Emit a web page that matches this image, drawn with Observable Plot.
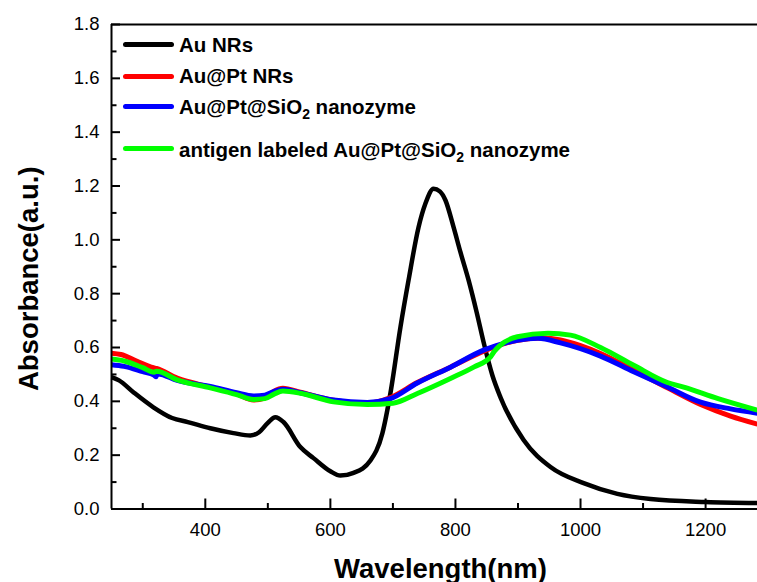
<!DOCTYPE html>
<html>
<head>
<meta charset="utf-8">
<script src="https://cdn.jsdelivr.net/npm/d3@7"></script>
<script src="https://cdn.jsdelivr.net/npm/@observablehq/plot@0.6"></script>
<style>
  body { margin: 0; background: #fff; }
  #wrap { position: relative; width: 757px; height: 582px; overflow: hidden; font-family: "Liberation Sans", Arial, sans-serif; }
  #legend { position: absolute; left: 0; top: 0; }
  .lg-line { position: absolute; left: 123px; width: 51px; height: 5px; border-radius: 2.5px; }
  .lg-text { position: absolute; left: 179px; font-size: 20.5px; font-weight: bold; line-height: 20.5px; white-space: nowrap; color: #000; }
  .lg-text sub { font-size: 14px; vertical-align: -5px; line-height: 0; }
</style>
</head>
<body>
<div id="wrap"></div>
<script>
// ---- data ----
const xDomain = [250, 1283];
const yDomain = [0, 1.8];
const xMajorTicks = [400, 600, 800, 1000, 1200];
const xMinorTicks = [300, 500, 700, 900, 1100];
const yMajorTicks = [0, 0.2, 0.4, 0.6, 0.8, 1.0, 1.2, 1.4, 1.6, 1.8];
const yMinorTicks = [0.1, 0.3, 0.5, 0.7, 0.9, 1.1, 1.3, 1.5, 1.7];
const xTitle = "Wavelength(nm)";
const yTitle = "Absorbance(a.u.)";

const seriesNames = ["Au NRs", "Au@Pt NRs", "Au@Pt@SiO2 nanozyme", "antigen labeled Au@Pt@SiO2 nanozyme"];
const seriesColors = ["#000000", "#ff0000", "#0000ff", "#00ff00"];

const auNRsWl = [250, 262, 285, 317, 347, 372, 408, 445, 472, 486, 500, 512, 525, 552, 573, 600, 616, 637, 664, 683, 696, 712, 725, 741, 752, 765, 775, 784, 797, 808, 821, 834, 846, 859, 872, 909, 952, 1005, 1059, 1112, 1200, 1283];
const auNRsAbs = [0.490, 0.478, 0.434, 0.378, 0.338, 0.323, 0.300, 0.282, 0.273, 0.285, 0.320, 0.341, 0.323, 0.230, 0.189, 0.140, 0.124, 0.134, 0.180, 0.280, 0.430, 0.675, 0.850, 1.047, 1.135, 1.190, 1.180, 1.147, 1.047, 0.954, 0.850, 0.730, 0.610, 0.497, 0.415, 0.256, 0.156, 0.096, 0.056, 0.037, 0.026, 0.022];

const auPtWl = [250, 265, 290, 317, 322, 355, 408, 450, 477, 495, 510, 524, 552, 605, 659, 696, 739, 792, 856, 900, 940, 968, 1000, 1032, 1085, 1139, 1192, 1240, 1283];
const auPtAbs = [0.579, 0.574, 0.550, 0.525, 0.522, 0.486, 0.453, 0.428, 0.405, 0.412, 0.438, 0.449, 0.434, 0.404, 0.393, 0.414, 0.470, 0.527, 0.597, 0.627, 0.635, 0.628, 0.607, 0.578, 0.516, 0.450, 0.388, 0.345, 0.315];

const auPtSiO2Wl = [250, 270, 300, 318, 321, 324, 355, 408, 450, 477, 495, 510, 524, 552, 605, 659, 696, 739, 792, 845, 899, 932, 968, 1032, 1085, 1139, 1192, 1240, 1283];
const auPtSiO2Abs = [0.536, 0.530, 0.510, 0.497, 0.491, 0.502, 0.478, 0.455, 0.432, 0.420, 0.423, 0.437, 0.445, 0.432, 0.405, 0.396, 0.410, 0.468, 0.527, 0.590, 0.627, 0.634, 0.617, 0.568, 0.510, 0.453, 0.397, 0.372, 0.356];

const antigenWl = [250, 270, 300, 318, 322, 355, 408, 450, 477, 495, 510, 524, 552, 605, 659, 700, 740, 792, 830, 856, 862, 870, 899, 948, 984, 1032, 1085, 1139, 1165, 1220, 1283];
const antigenAbs = [0.557, 0.550, 0.525, 0.508, 0.512, 0.480, 0.450, 0.425, 0.407, 0.410, 0.427, 0.438, 0.430, 0.398, 0.388, 0.393, 0.430, 0.485, 0.528, 0.565, 0.585, 0.605, 0.640, 0.653, 0.646, 0.600, 0.534, 0.470, 0.453, 0.410, 0.367];

// ---- build table ----
const seriesData = [
  [auNRsWl, auNRsAbs], [auPtWl, auPtAbs], [auPtSiO2Wl, auPtSiO2Abs], [antigenWl, antigenAbs]
];
const seriesWidths = [4.5, 5, 5, 5];
const lineMarks = seriesData.map(([wl, ab], k) =>
  Plot.line(wl.map((w, i) => ({wl: w, abs: ab[i]})), {
    x: "wl", y: "abs", stroke: seriesColors[k], strokeWidth: seriesWidths[k],
    curve: "monotone-x", strokeLinejoin: "round", strokeLinecap: "butt"
  })
);

const fmt = d3.format(".1f");
const chart = Plot.plot({
  width: 757,
  height: 582,
  marginLeft: 111,
  marginRight: 0,
  marginTop: 24,
  marginBottom: 73.5,
  style: {fontFamily: "'Liberation Sans', Arial, sans-serif", fontSize: "18.5px", background: "white", color: "#000", overflow: "hidden"},
  x: {domain: xDomain},
  y: {domain: yDomain},
  marks: [
    ...lineMarks,
    Plot.axisY(yMajorTicks, {tickSize: -9, tickPadding: 21, tickFormat: fmt, strokeWidth: 2, label: null, fontSize: 18.5}),
    Plot.axisY(yMinorTicks, {tickSize: -5.5, tickFormat: () => "", strokeWidth: 2, label: null}),
    Plot.axisX(xMajorTicks, {tickSize: -10, tickPadding: 24, strokeWidth: 2, label: null, fontSize: 18.5, tickFormat: d => String(d)}),
    Plot.axisX(xMinorTicks, {tickSize: -5.5, tickFormat: () => "", strokeWidth: 2, label: null}),
    Plot.ruleX([xDomain[0]], {strokeWidth: 2}),
    Plot.ruleY([yDomain[0]], {strokeWidth: 2}),
    Plot.ruleY([yDomain[1]], {strokeWidth: 2}),
    Plot.text([xTitle], {text: d => d, frameAnchor: "bottom", textAnchor: "middle", lineAnchor: "bottom", dy: 68.5, dx: 6, fontSize: 27.5, fontWeight: "bold", fill: "#000"}),
    Plot.text([yTitle], {text: d => d, frameAnchor: "left", textAnchor: "middle", lineAnchor: "bottom", rotate: -90, dx: -74, dy: 12, fontSize: 27.5, fontWeight: "bold", fill: "#000"})
  ]
});

const wrap = document.getElementById("wrap");
wrap.appendChild(chart);

// ---- legend (HTML overlay) ----
const legendLineY = [44, 76, 106, 148];
const legendTextTop = [34.6, 65.6, 96.6, 139.6];
const legend = document.createElement("div");
legend.id = "legend";
seriesNames.forEach((name, k) => {
  const ln = document.createElement("div");
  ln.className = "lg-line";
  ln.style.top = (legendLineY[k] - 2.5) + "px";
  ln.style.background = seriesColors[k];
  legend.appendChild(ln);
  const tx = document.createElement("div");
  tx.className = "lg-text";
  tx.style.top = legendTextTop[k] + "px";
  const parts = name.split("SiO2");
  if (parts.length > 1) {
    tx.append(parts[0] + "SiO");
    const sb = document.createElement("sub");
    sb.textContent = "2";
    tx.append(sb);
    tx.append(parts[1]);
  } else {
    tx.textContent = name;
  }
  legend.appendChild(tx);
});
wrap.appendChild(legend);
</script>
</body>
</html>
